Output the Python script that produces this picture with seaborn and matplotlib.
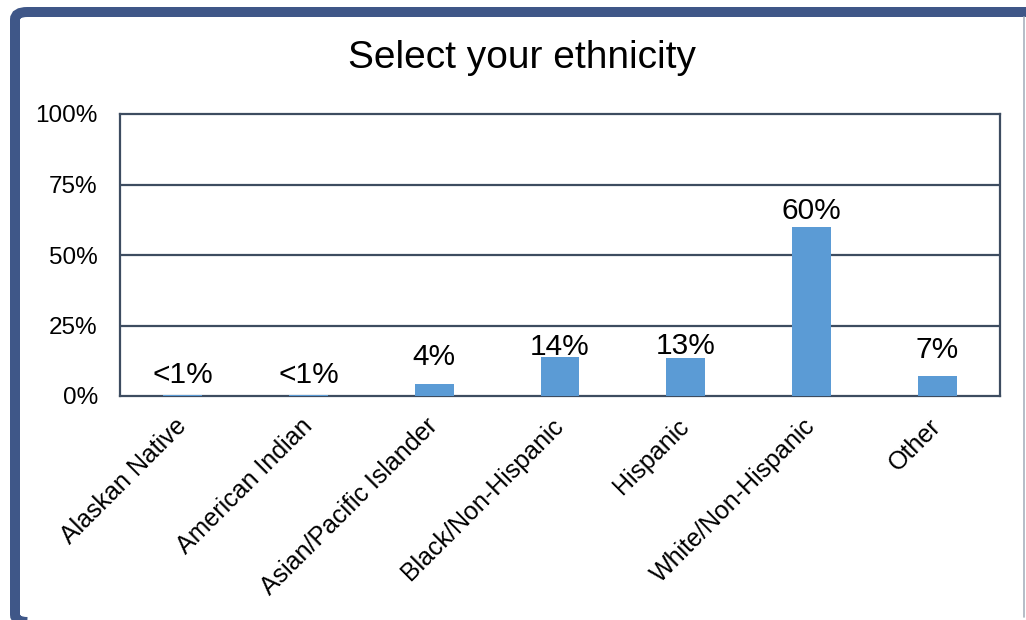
import matplotlib
matplotlib.use("Agg")
import matplotlib.pyplot as plt
import seaborn as sns
import pandas as pd
from matplotlib.patches import FancyBboxPatch
from matplotlib.lines import Line2D

categories = ["Alaskan Native", "American Indian", "Asian/Pacific Islander",
              "Black/Non-Hispanic", "Hispanic", "White/Non-Hispanic", "Other"]
values = [0.3, 0.3, 4.3, 13.8, 13.5, 59.9, 7.1]
labels = ["<1%", "<1%", "4%", "14%", "13%", "60%", "7%"]
label_pad_px = [12, 12, 19, 2, 4, 8, 18]
yticks = [0, 25, 50, 75, 100]
ytick_labels = ["0%", "25%", "50%", "75%", "100%"]

sns.set_theme(style="white")
plt.rcParams["font.family"] = ["Liberation Sans", "DejaVu Sans"]

W, H = 1026, 620
fig = plt.figure(figsize=(W / 100, H / 100), dpi=100)
fig.patch.set_facecolor("white")

# outer frame
frame = FancyBboxPatch((15 / W, -2 / H), (1060 - 15) / W, (608 - -2) / H,
                       boxstyle="round,pad=0,rounding_size=0.012",
                       transform=fig.transFigure, facecolor="none",
                       edgecolor="#3F5788", linewidth=7.2, zorder=0)
fig.patches.append(frame)
fig.lines.append(Line2D([1024 / W, 1024 / W], [3 / H, 603 / H], transform=fig.transFigure,
                        color="#A9B1BE", linewidth=1.2))

ax = fig.add_axes([120 / W, (H - 396) / H, (1000 - 120) / W, (396 - 114) / H])
df = pd.DataFrame({"cat": categories, "val": values})
sns.barplot(data=df, x="cat", y="val", color="#5B9BD5", width=0.31,
            saturation=1, linewidth=0, ax=ax, zorder=3)

ax.set_ylim(0, 100)
ax.set_xlim(-0.5, len(categories) - 0.5)
ax.set_yticks(yticks)
ax.set_yticklabels(ytick_labels)
ax.set_xlabel("")
ax.set_ylabel("")
grid_c = "#3D4C60"
for y in yticks[1:-1]:
    ax.axhline(y, color=grid_c, linewidth=1.6, zorder=1)
for s in ax.spines.values():
    s.set_color(grid_c)
    s.set_linewidth(1.6)
    s.set_visible(True)
ax.tick_params(axis="y", length=0, pad=16, labelsize=17.5, labelcolor="black")
ax.tick_params(axis="x", length=0, pad=19, labelsize=18, labelcolor="black")
plt.setp(ax.get_xticklabels(), rotation=45, ha="right", va="center",
         rotation_mode="anchor")

for i, (v, lab, p) in enumerate(zip(values, labels, label_pad_px)):
    ax.annotate(lab, (i, v), xytext=(0, p * 0.72), textcoords="offset points",
                ha="center", va="baseline", fontsize=21.5, color="black", zorder=4)

fig.text(522 / W, 1 - 58 / H, "Select your ethnicity", ha="center", va="center",
         fontsize=28, color="black")

fig.savefig("out.png", dpi=100)
